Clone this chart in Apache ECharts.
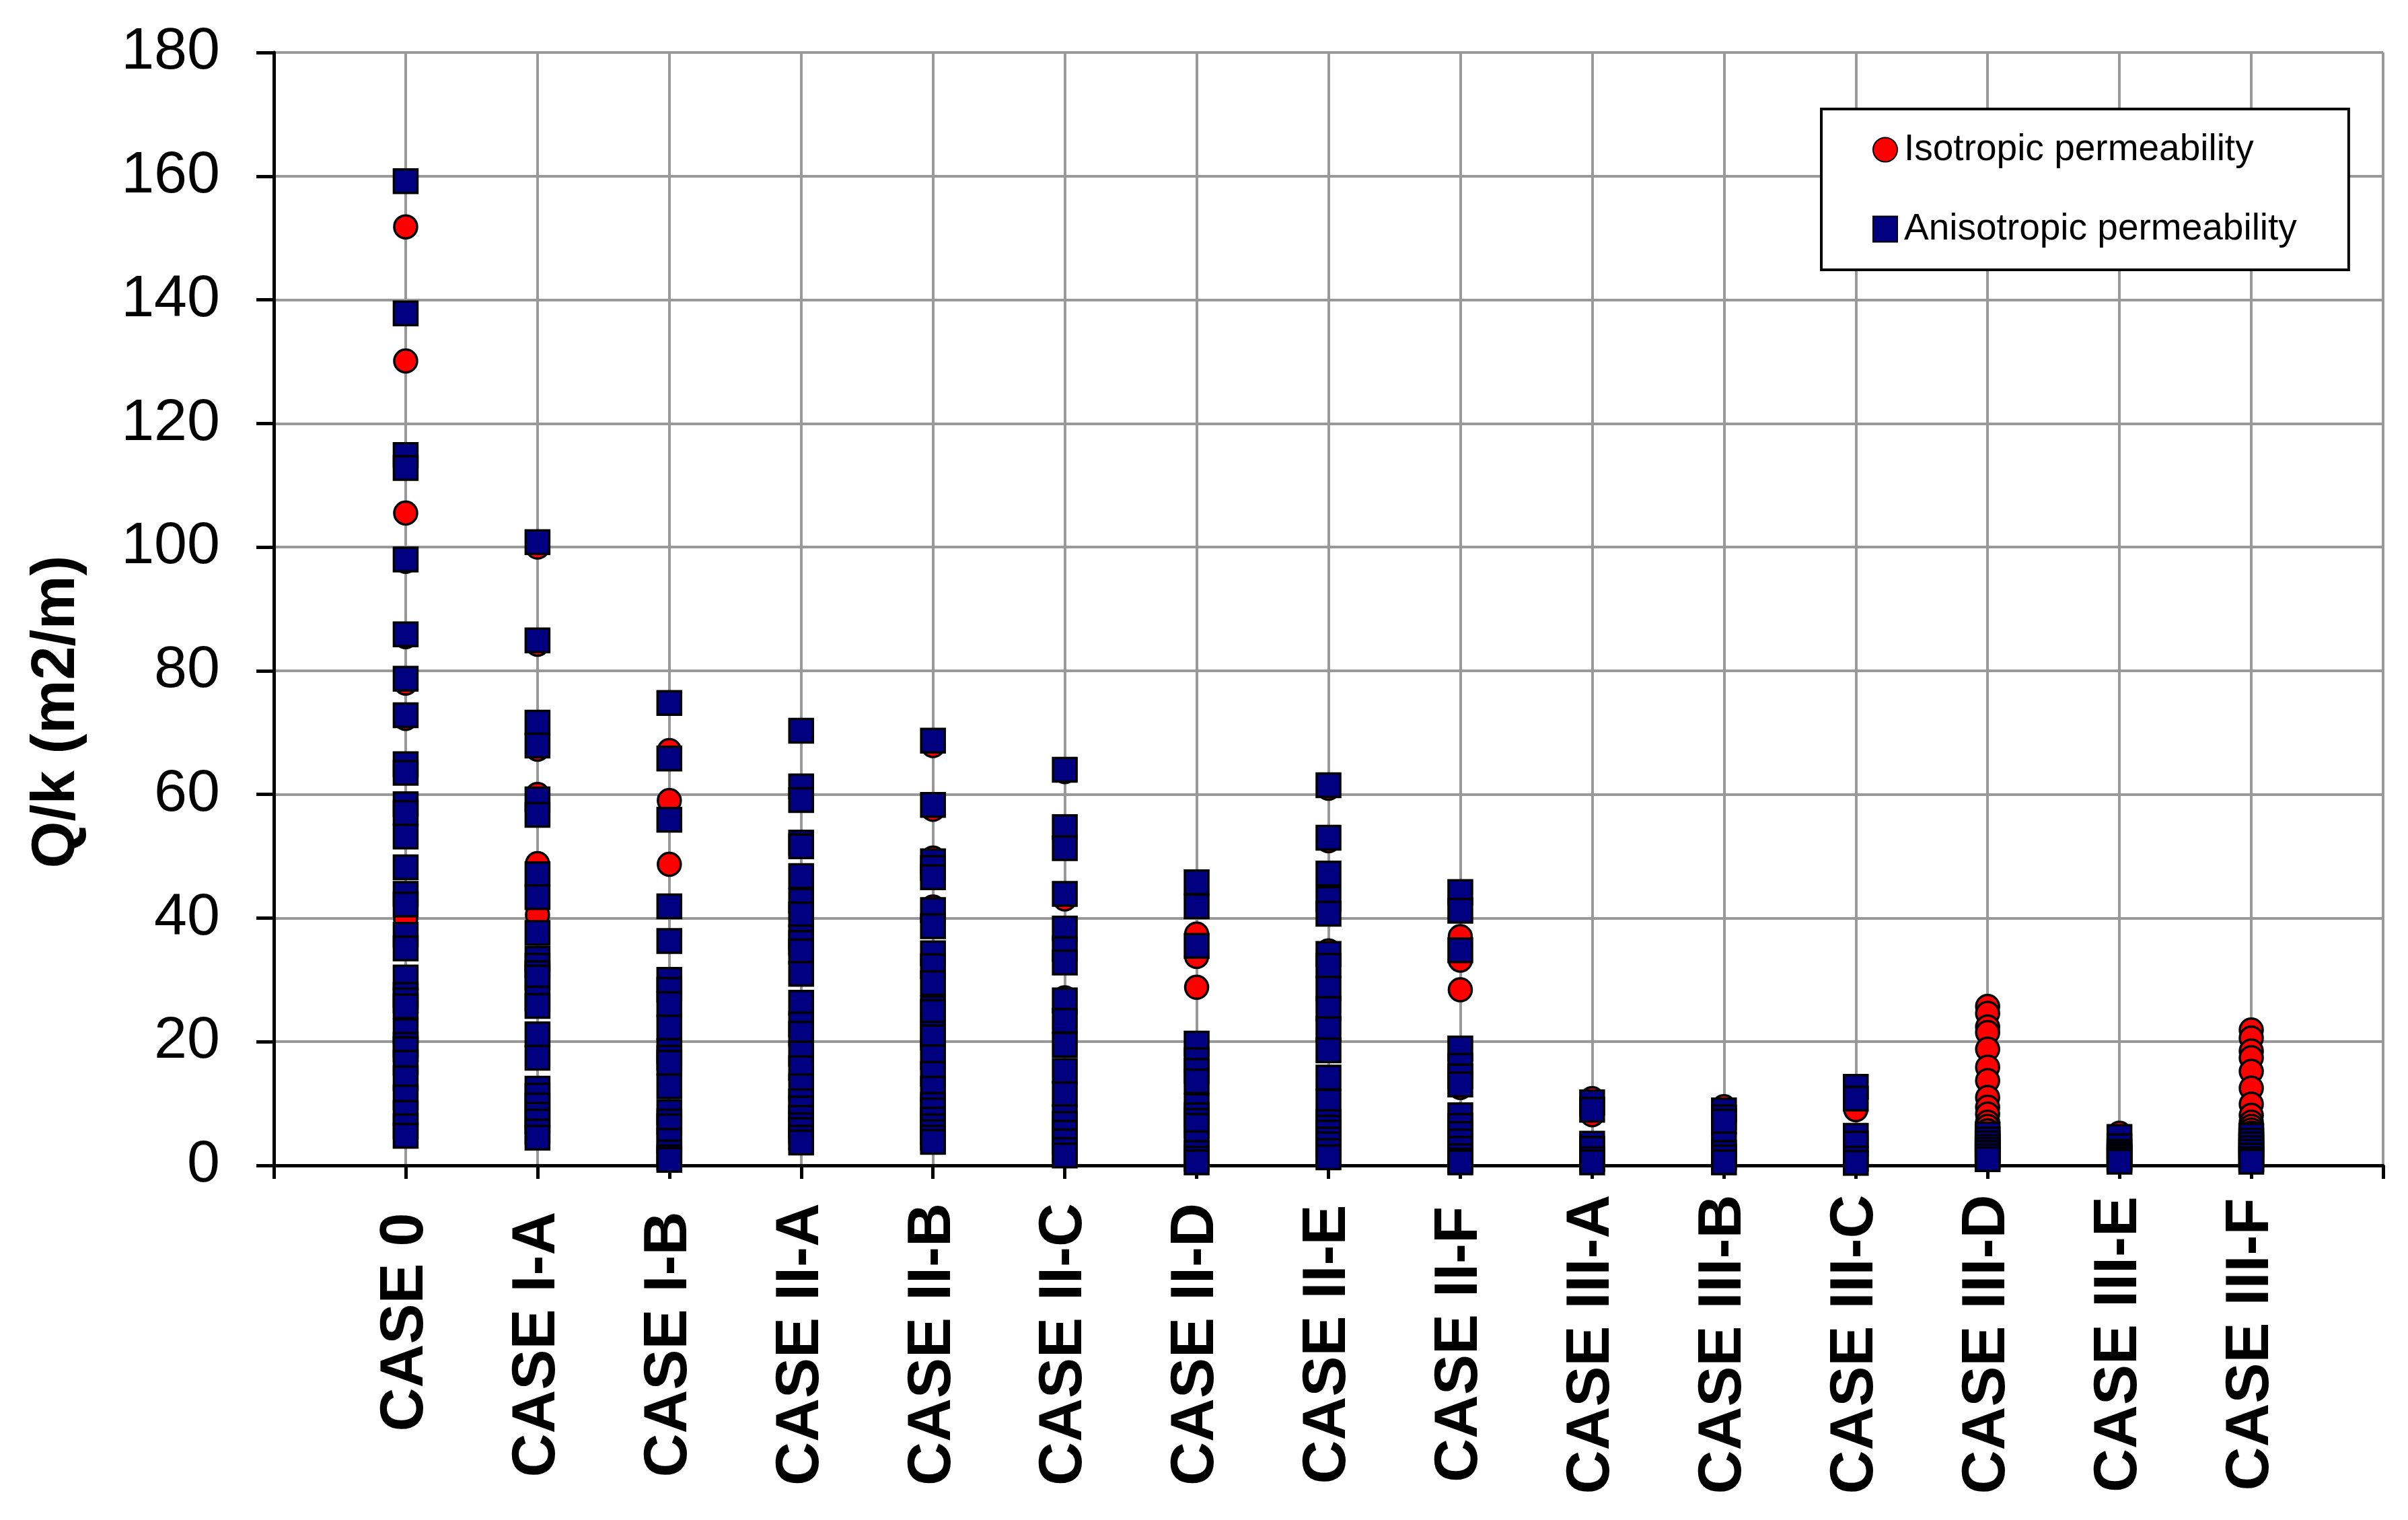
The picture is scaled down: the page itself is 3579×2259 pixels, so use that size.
<!DOCTYPE html>
<html>
<head>
<meta charset="utf-8">
<script src="https://cdn.jsdelivr.net/npm/echarts@6/dist/echarts.min.js"></script>
<style>
html,body{margin:0;padding:0;background:#fff;}
#chart{width:3579px;height:2259px;}
</style>
</head>
<body>
<div id="chart"></div>
<script>
// ---------- DATA ----------
const categories = ['CASE 0','CASE I-A','CASE I-B','CASE II-A','CASE II-B','CASE II-C','CASE II-D','CASE II-E','CASE II-F','CASE III-A','CASE III-B','CASE III-C','CASE III-D','CASE III-E','CASE III-F'];
const yTicks = [0,20,40,60,80,100,120,140,160,180];
const seriesNames = ['Isotropic permeability','Anisotropic permeability'];

// Isotropic permeability (red circles), per case
const isoCase0   = [151.8, 130.1, 105.5, 97.7, 85.5, 78.0, 72.3, 39.8];
const isoCaseIA  = [100.0, 84.3, 67.3, 60.0, 48.8, 40.5];
const isoCaseIB  = [67.1, 59.0, 48.7];
const isoCaseIIA = [];
const isoCaseIIB = [67.9, 57.6, 49.7, 41.8];
const isoCaseIIC = [63.7, 43.1, 27.1];
const isoCaseIID = [37.4, 33.8, 28.8];
const isoCaseIIE = [61.0, 52.5, 34.7];
const isoCaseIIF = [37.0, 33.2, 28.4, 12.6];
const isoCaseIIIA = [10.8, 8.2];
const isoCaseIIIB = [9.5];
const isoCaseIIIC = [9.0];
const isoCaseIIID = [25.7, 24.6, 22.4, 21.5, 18.8, 15.9, 13.7, 11.0, 9.4, 8.3, 7.0, 6.3, 5.6, 5.0];
const isoCaseIIIE = [5.2];
const isoCaseIIIF = [21.9, 20.6, 18.5, 17.4, 15.2, 12.5, 9.9, 8.1, 7.0, 6.3, 5.7, 5.2];

// Anisotropic permeability (navy squares), per case
const anisoCase0   = [159.2, 137.8, 114.9, 112.8, 98.0, 85.9, 78.7, 72.8, 64.9, 63.5, 58.4, 57.0, 53.2, 48.2, 43.9, 42.2, 37.3, 35.1, 30.4, 27.6, 26.7, 25.7, 21.7, 19.5, 18.8, 16.6, 14.1, 11.0, 8.5, 6.3, 4.8];
const anisoCaseIA  = [100.8, 84.9, 71.6, 67.9, 59.2, 56.7, 47.1, 43.4, 37.6, 33.4, 32.3, 31.1, 30.4, 27.0, 25.8, 21.2, 17.4, 12.4, 11.3, 9.7, 8.2, 7.1, 5.5, 4.5];
const anisoCaseIB  = [74.8, 65.8, 55.9, 41.9, 36.3, 30.0, 28.4, 26.1, 22.3, 18.5, 17.4, 16.6, 12.8, 8.6, 7.1, 6.3, 4.0, 2.1, 1.3, 0.9];
const anisoCaseIIA = [70.3, 61.3, 59.1, 52.2, 51.6, 46.8, 42.8, 40.6, 36.9, 36.0, 34.6, 31.0, 26.3, 22.8, 21.3, 18.1, 15.7, 12.8, 10.4, 9.2, 7.7, 6.5, 5.7, 4.5, 3.7];
const anisoCaseIIB = [68.7, 58.3, 49.2, 48.1, 46.6, 41.3, 38.7, 34.3, 32.2, 29.5, 25.4, 24.8, 21.3, 20.7, 17.5, 14.8, 12.4, 9.8, 8.9, 7.4, 6.3, 5.4, 4.5, 3.8];
const anisoCaseIIC = [64.0, 54.7, 51.3, 43.9, 38.3, 35.0, 32.8, 26.7, 23.4, 19.5, 15.3, 11.5, 7.8, 6.7, 5.3, 3.9, 2.5, 1.6];
const anisoCaseIID = [45.8, 41.9, 35.5, 19.7, 17.0, 15.3, 13.6, 9.6, 8.1, 7.2, 6.4, 3.6, 2.0, 1.1, 0.5];
const anisoCaseIIE = [61.5, 53.0, 47.2, 43.1, 40.7, 34.2, 32.3, 28.6, 25.3, 22.0, 18.6, 14.2, 10.3, 7.0, 6.1, 5.3, 4.2, 3.4, 2.3, 1.3];
const anisoCaseIIF = [44.2, 41.2, 34.8, 18.9, 16.1, 14.4, 13.1, 8.1, 6.4, 5.1, 3.9, 2.7, 1.5, 0.8, 0.5];
const anisoCaseIIIA = [10.2, 9.0, 3.5, 2.7, 1.0, 0.5];
const anisoCaseIIIB = [8.9, 7.8, 7.1, 3.4, 2.0, 1.3, 0.5];
const anisoCaseIIIC = [12.7, 10.8, 4.8, 3.5, 1.1, 0.4];
const anisoCaseIIID = [5.0, 4.2, 3.6, 3.0, 2.5, 2.0, 1.5, 1.0];
const anisoCaseIIIE = [4.6, 3.1, 2.2, 1.8, 1.4, 1.0, 0.6];
const anisoCaseIIIF = [4.8, 4.0, 3.4, 2.8, 2.2, 1.6, 1.0, 0.6];

const isoByCase = [isoCase0, isoCaseIA, isoCaseIB, isoCaseIIA, isoCaseIIB, isoCaseIIC, isoCaseIID, isoCaseIIE, isoCaseIIF, isoCaseIIIA, isoCaseIIIB, isoCaseIIIC, isoCaseIIID, isoCaseIIIE, isoCaseIIIF];
const anisoByCase = [anisoCase0, anisoCaseIA, anisoCaseIB, anisoCaseIIA, anisoCaseIIB, anisoCaseIIC, anisoCaseIID, anisoCaseIIE, anisoCaseIIF, anisoCaseIIIA, anisoCaseIIIB, anisoCaseIIIC, anisoCaseIIID, anisoCaseIIIE, anisoCaseIIIF];

function toPoints(byCase){
  const out = [];
  byCase.forEach((vals, i) => vals.forEach(v => out.push([i + 1, v])));
  return out;
}

// ---------- CHART ----------
const FONT = 'Liberation Sans, Arial, Helvetica, sans-serif';
const chart = echarts.init(document.getElementById('chart'), null, {renderer: 'canvas'});
chart.setOption({
  animation: false,
  backgroundColor: '#ffffff',
  grid: {left: 407, right: 37, top: 78, bottom: 527, containLabel: false},
  xAxis: {
    type: 'value',
    min: 0, max: categories.length + 1, interval: 1,
    axisLine: {show: true, onZero: false, lineStyle: {color: '#000', width: 5}},
    axisTick: {show: true, inside: false, length: 20, lineStyle: {color: '#000', width: 5}},
    splitLine: {show: true, lineStyle: {color: '#999999', width: 4}},
    axisLabel: {
      show: true,
      rotate: 90,
      align: 'center',
      verticalAlign: 'middle',
      margin: 266,
      fontSize: 90,
      fontWeight: 'bold',
      fontFamily: FONT,
      color: '#000',
      formatter: v => (v === 1 ? '{first|' + categories[0] + '}' : (categories[v - 1] || '')),
      rich: {
        first: {fontSize: 90, fontWeight: 'bold', fontFamily: FONT, color: '#000', padding: [0, 0, 0, 66]}
      }
    }
  },
  yAxis: {
    type: 'value',
    min: yTicks[0], max: yTicks[yTicks.length - 1], interval: 20,
    axisLine: {show: true, onZero: false, lineStyle: {color: '#000', width: 5}},
    axisTick: {show: true, inside: false, length: 26, lineStyle: {color: '#000', width: 5}},
    splitLine: {show: true, lineStyle: {color: '#999999', width: 4}},
    axisLabel: {fontSize: 88, fontFamily: FONT, color: '#000', margin: 80}
  },
  legend: {
    orient: 'vertical',
    left: 2707, top: 162,
    padding: [33, 77, 33, 76],
    itemGap: 63,
    itemWidth: 36, itemHeight: 38,
    backgroundColor: '#fff',
    borderColor: '#000', borderWidth: 4,
    selectedMode: false,
    textStyle: {fontSize: 55, fontFamily: FONT, color: '#000', padding: [0, 0, 0, 5]},
    data: [{name: seriesNames[0], icon: 'circle'}, {name: seriesNames[1], icon: 'rect'}]
  },
  graphic: [{
    type: 'text',
    x: 85, y: 1058,
    rotation: Math.PI / 2,
    style: {
      text: 'Q/k (m2/m)',
      fontSize: 90, fontWeight: 'bold', fontFamily: FONT,
      fill: '#000', align: 'center', verticalAlign: 'middle'
    }
  }],
  series: [
    {
      name: seriesNames[0],
      type: 'scatter',
      clip: false,
      symbol: 'circle',
      symbolSize: 34,
      itemStyle: {color: '#FF0000', borderColor: '#000', borderWidth: 3.5, opacity: 1},
      emphasis: {disabled: true},
      data: toPoints(isoByCase)
    },
    {
      name: seriesNames[1],
      type: 'scatter',
      clip: false,
      symbol: 'rect',
      symbolSize: 35,
      itemStyle: {color: '#000080', borderColor: '#000', borderWidth: 3.5, opacity: 1},
      emphasis: {disabled: true},
      data: toPoints(anisoByCase)
    }
  ]
});
</script>
</body>
</html>
